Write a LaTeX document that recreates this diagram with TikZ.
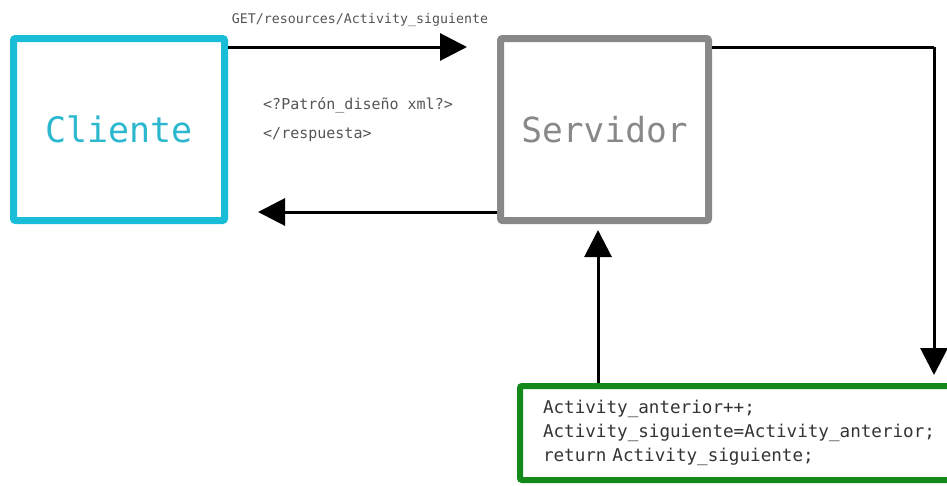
\documentclass[tikz,border=0pt]{standalone}
\usepackage{fontspec}
\newfontfamily\mono[WordSpace={1,0,0}]{DejaVu Sans Mono}
\usetikzlibrary{arrows.meta}
\definecolor{cyanbox}{HTML}{19BDD7}
\definecolor{cyantext}{HTML}{2BB8CF}
\definecolor{graybox}{HTML}{888888}
\definecolor{greenbox}{HTML}{14891A}
\definecolor{labelgray}{HTML}{555555}
\definecolor{codetext}{HTML}{333333}
\tikzset{
  box/.style={draw, rectangle, rounded corners=2pt, line width=7pt, inner sep=0pt},
  arr/.style={line width=3pt, draw=black, -{Triangle[width=27pt,length=27pt]}},
  conn/.style={line width=3pt, draw=black},
  lbl/.style={font=\mono\fontsize{13.3}{15}\selectfont, text=labelgray, inner sep=0pt},
  resp/.style={font=\mono\fontsize{15}{17}\selectfont, text=labelgray, inner sep=0pt, anchor=west},
}
\begin{document}
\begin{tikzpicture}[x=1pt,y=-1pt]
\useasboundingbox (0,0) rectangle (947,485);
\node[box, draw=cyanbox, minimum width=211pt, minimum height=182pt, text=cyantext,
      font=\mono\fontsize{35}{40}\selectfont] (cl) at (119,129.5) {Cliente};
\node[box, draw=graybox, minimum width=208pt, minimum height=182pt, text=graybox,
      font=\mono\fontsize{34.5}{40}\selectfont] (sv) at (604.5,129.5) {Servidor};
\node[box, draw=greenbox, line width=6pt, minimum width=440pt, minimum height=94pt,
      text width=394pt, inner xsep=23pt, align=left, text=codetext,
      font=\mono\fontsize{17.6}{24}\selectfont] (gr) at (740,433)
  {Activity\_anterior++;\\Activity\_siguiente=Activity\_anterior;\\return Activity\_siguiente;};
% labels
\node[lbl] (get) at (360,20) {GET/resources/Activity\_siguiente};
\node[resp] (xml) at (263,105) {<?Patrón\_diseño xml?>};
\node[resp] (rsp) at (263,135) {</respuesta>};
% coordinates
\coordinate (a1) at (467,47);
\coordinate (a2) at (258,212);
\coordinate (c1) at (934,47);
\coordinate (c2) at (934,375);
\coordinate (u1) at (598,230);
% connectors
\draw[arr] (cl.east |- a1) -- (a1);
\draw[arr] (sv.west |- a2) -- (a2);
\draw[conn] (sv.east |- c1) -- (c1);
\draw[arr] (c1) -- (c2);
\draw[arr] (gr.north -| u1) -- (u1);
\end{tikzpicture}
\end{document}
